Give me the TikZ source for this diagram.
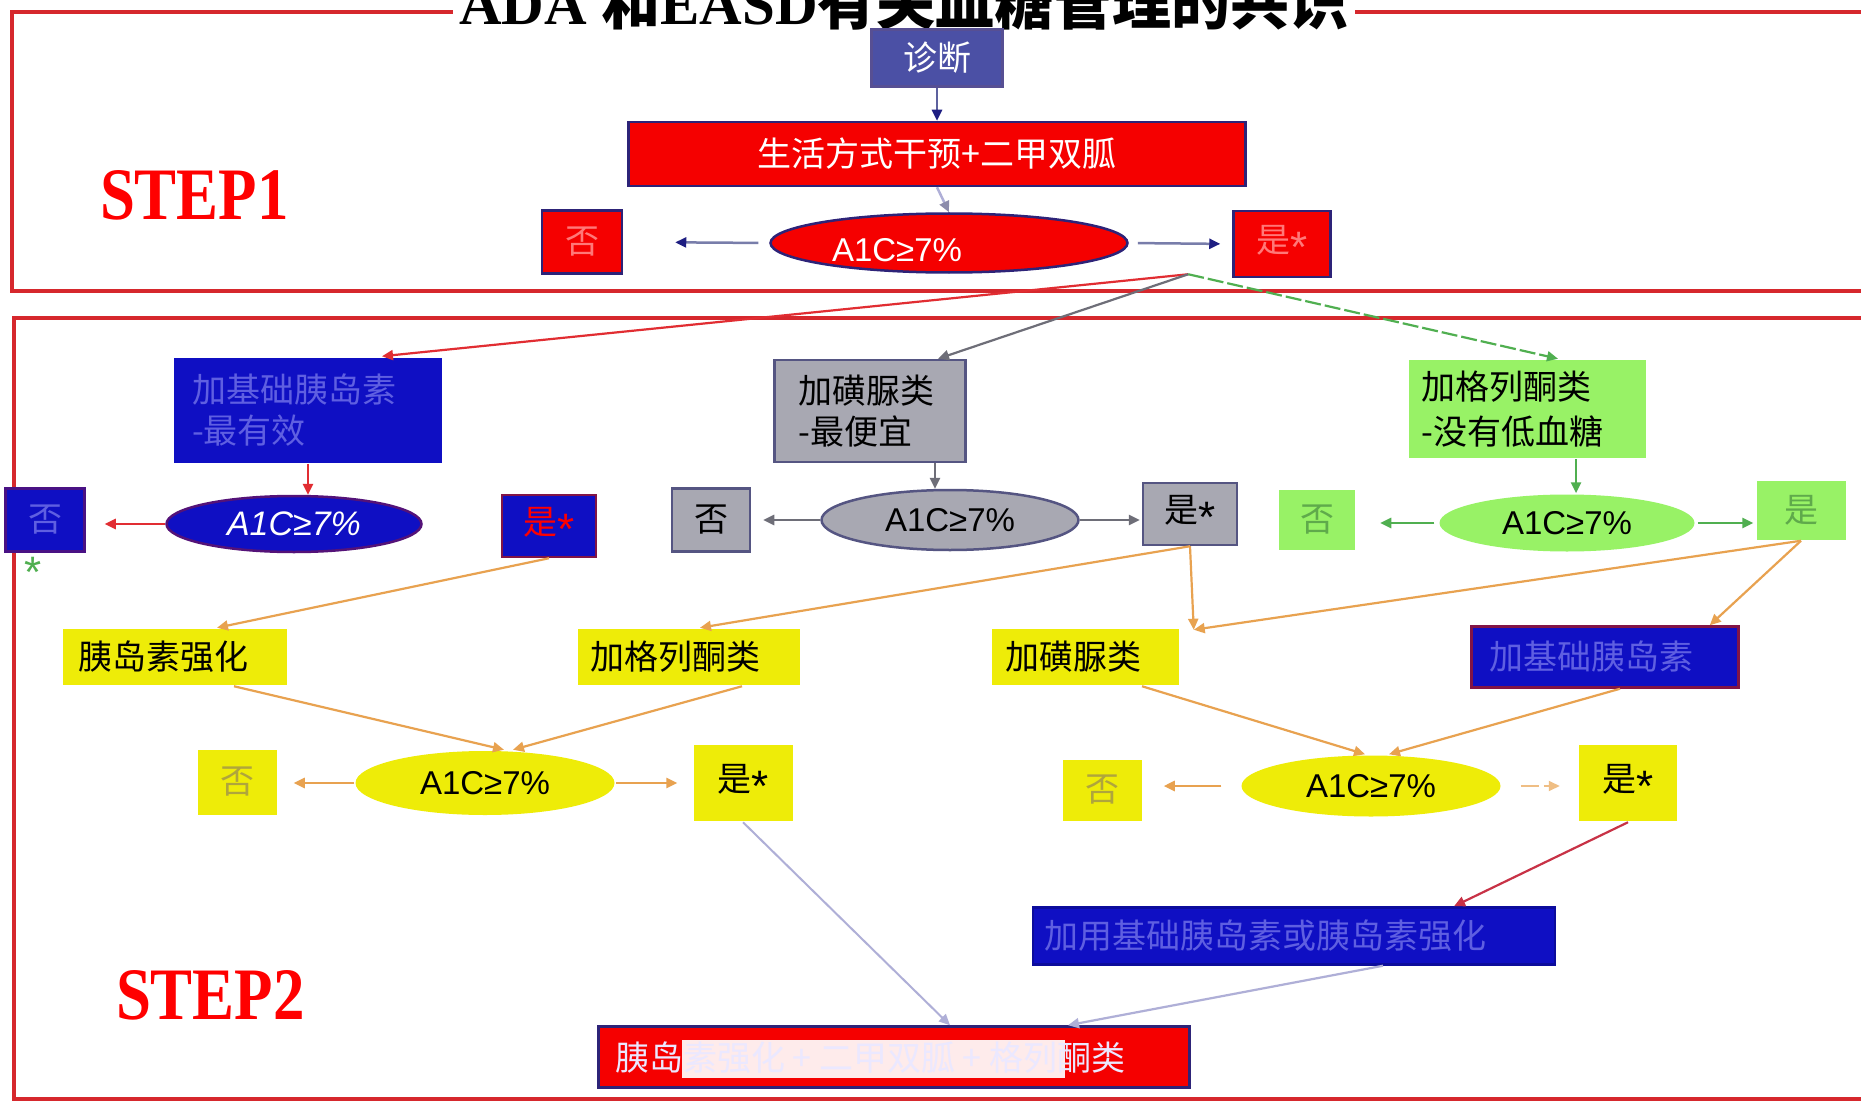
\documentclass[tikz,border=0pt]{standalone}
\usepackage{fontspec}
\setmainfont{Liberation Sans}
\newfontfamily\cjk{Noto Sans CJK SC}
\newfontfamily\tnr{Liberation Serif}
\newfontfamily\lsans{Liberation Sans}
\newcommand\stx{\raisebox{-10pt}{\lsans\fontsize{44}{44}\selectfont *}}
\usetikzlibrary{arrows.meta,shapes.geometric,calc}
\definecolor{frame}{RGB}{214,40,45}
\definecolor{redfill}{RGB}{245,0,0}
\definecolor{navy}{RGB}{45,35,120}
\definecolor{navyhead}{RGB}{30,30,130}
\definecolor{diagfill}{RGB}{75,80,165}
\definecolor{bluefill}{RGB}{15,15,195}
\definecolor{bluetxt}{RGB}{95,95,225}
\definecolor{grayfill}{RGB}{168,168,178}
\definecolor{grayedge}{RGB}{85,85,130}
\definecolor{greenfill}{RGB}{152,242,102}
\definecolor{greentxt}{RGB}{95,170,75}
\definecolor{yellowfill}{RGB}{238,236,8}
\definecolor{yellowtxt}{RGB}{175,165,60}
\definecolor{orangeline}{RGB}{232,162,80}
\definecolor{greenline}{RGB}{80,175,80}
\definecolor{grayline}{RGB}{110,110,120}
\definecolor{redline}{RGB}{225,45,50}
\definecolor{lavline}{RGB}{175,175,215}
\definecolor{pinktxt}{RGB}{255,120,120}
\definecolor{stepblue}{RGB}{120,125,170}
\definecolor{darkred}{RGB}{200,50,70}
\definecolor{borderred}{RGB}{130,20,70}
\begin{document}
\begin{tikzpicture}[x=1pt,y=-1pt,
  box/.style={rectangle, inner sep=0, line width=2.5},
  oval/.style={ellipse, inner sep=0, line width=2.5},
  cj/.style={font=\cjk\fontsize{34}{41}\selectfont},
  lat/.style={font=\fontsize{33}{36}\selectfont},
  steplabel/.style={text=red, font=\tnr\bfseries\fontsize{74}{80}\selectfont, xscale=0.85, anchor=base west},
  arr/.style={line width=2.5, -{Triangle[length=11,width=10]}},
  frameline/.style={draw=frame, line width=3.5}
]
\useasboundingbox (0,0) rectangle (1861,1102);
\fill[white] (0,0) rectangle (1861,1102);

% frames
\draw[frameline] (1861,12) -- (12,12) -- (12,291) -- (1861,291);
\draw[frameline] (1861,318) -- (14,318) -- (14,1099) -- (1861,1099);

% title
\node[fill=white, inner xsep=6, inner ysep=3, anchor=base] (title) at (904,25)
  {\fontsize{59}{62}\selectfont\tnr\bfseries ADA {\cjk\bfseries 和}EASD{\cjk\bfseries 有关血糖管理的共识}};

% step labels
\node[steplabel] (step1) at (97,220) {STEP1};
\node[steplabel] (step2) at (113,1019) {STEP2};

% ---------------- STEP 1 ----------------
\node[box, fill=diagfill, draw=navy!80, minimum width=131, minimum height=57, text=white, cj] (diag) at (937,58) {诊断};
\node[box, fill=redfill, draw=navy, minimum width=617, minimum height=64, text=white, cj] (life) at (937,154) {生活方式干预+二甲双胍};
\node[oval, fill=redfill, draw=navy, minimum width=357, minimum height=59] (e1) at (949,243) {};
\node[text=white, lat] (e1t) at (897,250) {A1C≥7\%};
\node[box, fill=redfill, draw=navy, minimum width=80, minimum height=63, text=pinktxt, cj] (no1) at (582,242) {否};
\node[box, fill=redfill, draw=navy, minimum width=97, minimum height=66, text=pinktxt, cj] (yes1) at (1282,244) {是\stx};

\draw[arr, draw=stepblue!70!navyhead, -{Triangle[length=11,width=10,color=navyhead]}] (diag.south) -- (life.north);
\draw[arr, draw=lavline, -{Triangle[length=11,width=10,color=lavline!80!black]}] (life.south) -- (e1.north);
\draw[arr, draw=stepblue, -{Triangle[length=11,width=10,color=navyhead]}, shorten <=11, shorten >=52] (e1.west) -- (no1.east);
\draw[arr, draw=stepblue, -{Triangle[length=11,width=10,color=navyhead]}, shorten <=9, shorten >=12] (e1.east) -- (yes1.west);

% ---------------- STEP 2 ----------------
\node[box, fill=bluefill, minimum width=268, minimum height=105, inner xsep=18, text width=232, align=left, text=bluetxt, cj] (bA) at (308,410) {加基础胰岛素\\-最有效};
\node[oval, fill=bluefill, draw=borderred!60!bluefill, minimum width=255, minimum height=56, text=white, lat, font=\itshape\fontsize{34}{36}\selectfont] (eA) at (294,524) {A1C≥7\%};
\node[box, fill=bluefill, draw=borderred!50!bluefill, minimum width=79, minimum height=63, text=bluetxt, cj] (noA) at (45,520) {否};
\node[box, fill=bluefill, draw=borderred, minimum width=94, minimum height=62, text=red, cj] (yesA) at (549,526) {是\stx};

\node[box, fill=grayfill, draw=grayedge, minimum width=191, minimum height=102, inner xsep=24, text width=143, align=left, cj] (gB) at (870,411) {加磺脲类\\-最便宜};
\node[oval, fill=grayfill, draw=grayedge, minimum width=257, minimum height=60, lat] (eB) at (950,520) {A1C≥7\%};
\node[box, fill=grayfill, draw=grayedge, minimum width=78, minimum height=63, cj] (noB) at (711,520) {否};
\node[box, fill=grayfill, draw=grayedge, minimum width=94, minimum height=62, cj] (yesB) at (1190,514) {是\stx};

\node[box, fill=greenfill, minimum width=237, minimum height=98, inner xsep=13, text width=211, align=left, cj, font=\cjk\fontsize{34}{45}\selectfont] (gC) at (1527,409) {加格列酮类\\-没有低血糖};
\node[oval, fill=greenfill, minimum width=255, minimum height=57, lat] (eC) at (1567,523) {A1C≥7\%};
\node[box, fill=greenfill, minimum width=76, minimum height=60, text=greentxt, cj] (noC) at (1317,520) {否};
\node[box, fill=greenfill, minimum width=89, minimum height=59, text=greentxt, cj] (yesC) at (1801,510) {是};

\node[text=greenline, inner sep=0] (star) at (33,572) {\stx};

% split connectors from step 1
\coordinate (split) at ($(yes1.south west)+(-44,-4)$);
\draw[arr, draw=redline, line width=2.2] (split) -- ([xshift=74]bA.north);
\draw[arr, draw=grayline, line width=2.2] (split) -- ([xshift=68]gB.north);
\draw[arr, draw=greenline, line width=2.2, dash pattern=on 16 off 4] (split) -- ([xshift=31]gC.north);

% step 2 internal
\draw[arr, draw=redline] (bA.south) -- (bA.south |- eA.north);
\draw[arr, draw=redline, shorten >=19] (eA.west) -- (eA.west -| noA.east);
\draw[arr, draw=grayline] ([xshift=-15]eB.north |- gB.south) -- ([xshift=-15]eB.north);
\draw[arr, draw=grayline, shorten >=12] (eB.west) -- (noB.east);
\draw[arr, draw=grayline, shorten >=2] (eB.east) -- (eB.east -| yesB.west);
\draw[arr, draw=greenline] ([xshift=9]eC.north |- gC.south) -- ([xshift=9]eC.north);
\draw[arr, draw=greenline, shorten <=4, shorten >=24] (eC.west) -- (eC.west -| noC.east);
\draw[arr, draw=greenline, shorten <=2, shorten >=2] (eC.east) -- (eC.east -| yesC.west);

% third row boxes
\node[box, fill=yellowfill, minimum width=224, minimum height=56, inner xsep=15, text width=194, align=left, cj] (y1) at (175,657) {胰岛素强化};
\node[box, fill=yellowfill, minimum width=222, minimum height=56, inner xsep=12, text width=198, align=left, cj] (y2) at (689,657) {加格列酮类};
\node[box, fill=yellowfill, minimum width=187, minimum height=56, inner xsep=14, text width=159, align=left, cj] (y3) at (1085,657) {加磺脲类};
\node[box, fill=bluefill, draw=borderred, minimum width=267, minimum height=61, inner xsep=18, text width=231, align=left, text=bluetxt, cj] (b4) at (1605,657) {加基础胰岛素};

\coordinate (m3) at ([xshift=14,yshift=-2]y3.north east);
\draw[arr, draw=orangeline, line width=2.2] (yesA.south) -- ([xshift=42]y1.north);
\draw[arr, draw=orangeline, line width=2.2] (yesB.south) -- ([xshift=11]y2.north);
\draw[arr, draw=orangeline, line width=2.2] (yesB.south) -- (m3);
\draw[arr, draw=orangeline, line width=2.2] (yesC.south) -- (m3);
\draw[arr, draw=orangeline, line width=2.2] (yesC.south) -- ([xshift=-30]b4.north east);

% fourth row
\node[oval, fill=yellowfill, minimum width=259, minimum height=64, lat] (eY1) at (485,783) {A1C≥7\%};
\node[box, fill=yellowfill, minimum width=79, minimum height=65, text=yellowtxt, cj] (noY1) at (237,782) {否};
\node[box, fill=yellowfill, minimum width=99, minimum height=76, cj] (yesY1) at (743,783) {是\stx};
\node[oval, fill=yellowfill, minimum width=259, minimum height=61, lat] (eY2) at (1371,786) {A1C≥7\%};
\node[box, fill=yellowfill, minimum width=79, minimum height=61, text=yellowtxt, cj] (noY2) at (1102,790) {否};
\node[box, fill=yellowfill, minimum width=98, minimum height=76, cj] (yesY2) at (1628,783) {是\stx};

\draw[arr, draw=orangeline, line width=2.2] ([xshift=59]y1.south) -- ([xshift=19]eY1.north);
\draw[arr, draw=orangeline, line width=2.2] ([xshift=53]y2.south) -- ([xshift=28]eY1.north);
\draw[arr, draw=orangeline, line width=2.2] ([xshift=57]y3.south) -- ([xshift=-6]eY2.north);
\draw[arr, draw=orangeline, line width=2.2] ([xshift=15]b4.south) -- ([xshift=18]eY2.north);
\draw[arr, draw=orangeline, shorten >=16] (eY1.west) -- (eY1.west -| noY1.east);
\draw[arr, draw=orangeline, shorten >=15] (eY1.east) -- (eY1.east -| yesY1.west);
\draw[arr, draw=orangeline, shorten <=19, shorten >=21] (eY2.west) -- (eY2.west -| noY2.east);
\draw[arr, draw=orangeline!70, line width=1.8, dash pattern=on 18 off 5, shorten <=19, shorten >=18] (eY2.east) -- (eY2.east -| yesY2.west);

% final row
\node[box, fill=bluefill, draw=bluefill!80!black, minimum width=522, minimum height=57, inner xsep=11, text width=500, align=left, text=bluetxt, cj] (bF) at (1294,936) {加用基础胰岛素或胰岛素强化};
\node[box, fill=redfill, draw=navy, minimum width=591, minimum height=61] (rF) at (894,1057) {};
\fill[white, opacity=0.92] (682,1040) rectangle (1065,1078);
\node[anchor=west, inner sep=0, text={rgb,255:red,235;green,232;blue,255}, cj] (rFt) at (615,1058) {胰岛素强化 + 二甲双胍 + 格列酮类};

\draw[arr, draw=lavline, line width=2] (yesY1.south) -- ([xshift=56]rF.north);
\draw[arr, draw=darkred, line width=2.2] (yesY2.south) -- ([xshift=160]bF.north);
\draw[arr, draw=lavline, line width=2.2] ([xshift=89]bF.south) -- ([xshift=174]rF.north);
\end{tikzpicture}
\end{document}
